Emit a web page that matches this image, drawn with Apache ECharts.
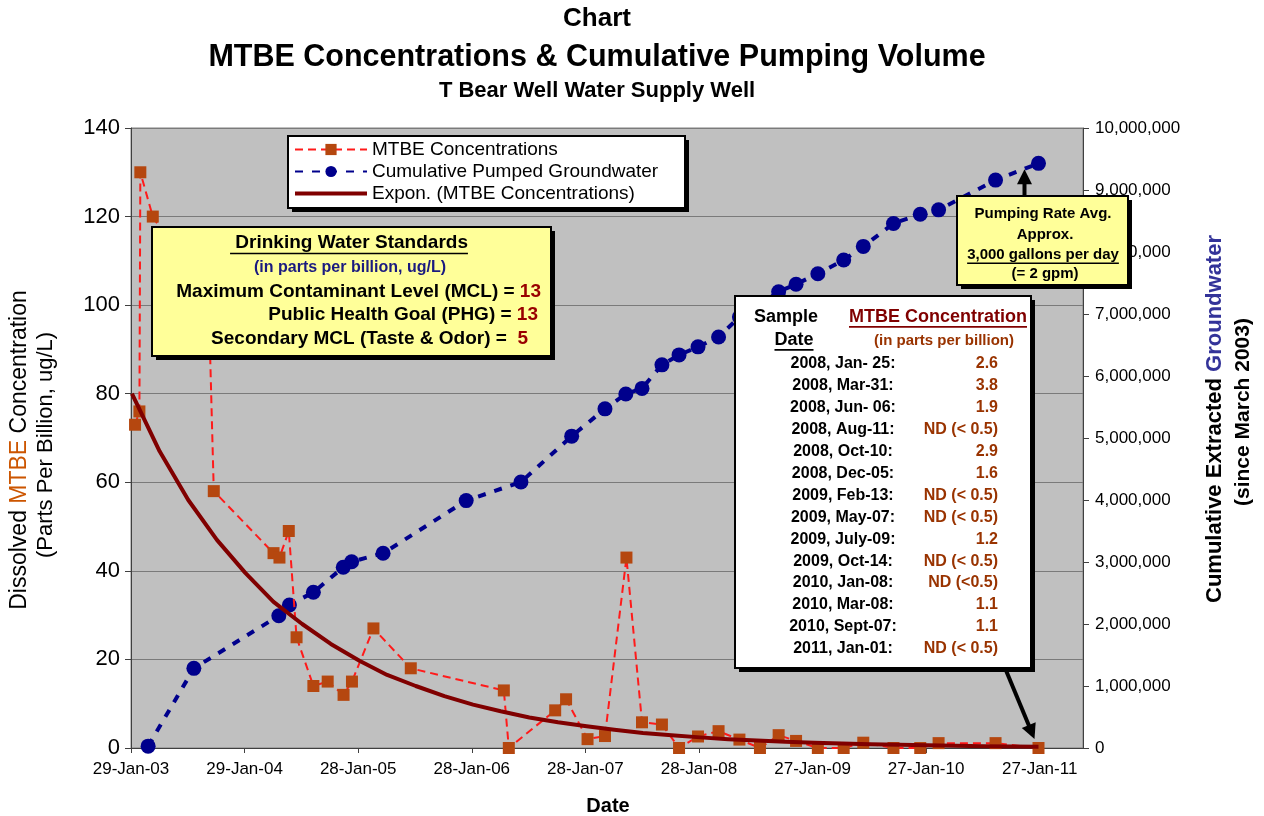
<!DOCTYPE html>
<html><head><meta charset="utf-8">
<script src="https://cdn.jsdelivr.net/npm/echarts@6/dist/echarts.min.js"></script>
<style>html,body{margin:0;padding:0;background:#fff}#c{width:1264px;height:816px}</style>
</head><body><div id="c"></div>
<script>
// ---------- data ----------
const baseDate = '2003-01-29';   // first x-axis tick
const axisEndDay = 3059;         // right edge of the date axis, days after baseDate
const tickStepDays = 365;

const mtbeDates = ['2003-02-11','2003-02-25','2003-02-28','2003-04-09','2003-10-06','2003-10-22',
  '2004-05-01','2004-05-20','2004-06-19','2004-07-14','2004-09-06','2004-10-22','2004-12-12',
  '2005-01-08','2005-03-18','2005-07-16','2006-05-11','2006-05-27','2006-10-23','2006-11-27',
  '2007-02-04','2007-04-01','2007-06-09','2007-07-29','2007-10-01','2007-11-25',
  '2008-01-25','2008-03-31','2008-06-06','2008-08-11','2008-10-10','2008-12-05',
  '2009-02-13','2009-05-07','2009-07-09','2009-10-14','2010-01-08','2010-03-08','2010-09-07','2011-01-23'];
const mtbeValues = [73,76,130,120,100,58,
  44,43,49,25,14,15,12,
  15,27,18,13,0,8.5,11,
  2,2.7,43,5.8,5.3,0,
  2.6,3.8,1.9,0,2.9,1.6,
  0,0,1.2,0,0,1.1,1.1,0];

const pumpDates = ['2003-03-25','2003-08-19','2004-05-18','2004-06-21','2004-09-06','2004-12-11',
  '2005-01-07','2005-04-18','2006-01-10','2006-07-05','2006-12-15','2007-04-01','2007-06-07',
  '2007-07-29','2007-10-01','2007-11-25','2008-01-25','2008-03-31','2008-06-06','2008-08-11',
  '2008-10-10','2008-12-05','2009-02-13','2009-05-07','2009-07-09','2009-10-14','2010-01-08',
  '2010-03-08','2010-09-07','2011-01-23'];
const pumpValues = [30000,1285000,2134000,2306000,2511000,2915000,
  3005000,3140000,3990000,4290000,5030000,5470000,5710000,
  5800000,6180000,6340000,6470000,6630000,6950000,7150000,
  7360000,7480000,7650000,7870000,8090000,8460000,8610000,
  8680000,9160000,9430000];

// Excel exponential trendline
const trendDates = ['2003-02-01','2003-05-01','2003-08-01','2003-11-01','2004-02-01','2004-05-01',
  '2004-08-01','2004-11-01','2005-02-01','2005-05-01','2005-08-01','2005-11-01','2006-02-01',
  '2006-05-01','2006-08-01','2006-11-01','2007-02-01','2007-05-01','2007-08-01','2007-11-01',
  '2008-02-01','2008-05-01','2008-08-01','2008-11-01','2009-02-01','2009-05-01','2009-08-01',
  '2009-11-01','2010-02-01','2010-05-01','2010-08-01','2010-11-01','2011-01-23'];
const trendValues = [80,67,56,47,39.5,33,28,23.5,19.7,16.5,14,11.7,9.8,
  8.3,6.9,5.8,4.9,4.1,3.4,2.9,2.4,2.0,1.7,1.4,1.2,1.0,0.85,
  0.71,0.6,0.5,0.42,0.35,0.31];

const seriesNames = ['MTBE Concentrations','Cumulative Pumped Groundwater','Expon. (MTBE Concentrations)'];

const standardsRows = [
  ['Maximum Contaminant Level (MCL) = ','13'],
  ['Public Health Goal (PHG) = ','13'],
  ['Secondary MCL (Taste & Odor) =  ','5']
];
const tableDates = ['2008, Jan- 25:','2008, Mar-31:','2008, Jun- 06:','2008, Aug-11:','2008, Oct-10:',
  '2008, Dec-05:','2009, Feb-13:','2009, May-07:','2009, July-09:','2009, Oct-14:','2010, Jan-08:',
  '2010, Mar-08:','2010, Sept-07:','2011, Jan-01:'];
const tableValues = ['2.6','3.8','1.9','ND (< 0.5)','2.9','1.6','ND (< 0.5)','ND (< 0.5)','1.2',
  'ND (< 0.5)','ND (<0.5)','1.1','1.1','ND (< 0.5)'];

// ---------- helpers ----------
const DAY = 86400000;
const MON = ['Jan','Feb','Mar','Apr','May','Jun','Jul','Aug','Sep','Oct','Nov','Dec'];
function utc(s){const p=s.split('-').map(Number);return Date.UTC(p[0],p[1]-1,p[2]);}
const base = utc(baseDate);
function toDay(s){return Math.round((utc(s)-base)/DAY);}
function fmtDay(v){const d=new Date(base+v*DAY);
  return String(d.getUTCDate()).padStart(2,'0')+'-'+MON[d.getUTCMonth()]+'-'+String(d.getUTCFullYear()%100).padStart(2,'0');}
const FF = '"Liberation Sans", Arial, Helvetica, sans-serif';
const mctx = document.createElement('canvas').getContext('2d');
function tw(text, size, weight){mctx.font=(weight||'normal')+' '+size+'px '+FF;return mctx.measureText(text).width;}

const mtbeData = mtbeDates.map((d,i)=>[toDay(d), mtbeValues[i]]);
const pumpData = pumpDates.map((d,i)=>[toDay(d), pumpValues[i]]);
const trendData = trendDates.map((d,i)=>[toDay(d), trendValues[i]]);

const chart = echarts.init(document.getElementById('c'));

const titleCx = 597;
function titleItem(text, size, cy){
  return {text, left: titleCx - tw(text,size,'bold')/2, top: cy - size/2 - 1, padding:0,
    textStyle:{fontFamily:FF, fontWeight:'bold', fontSize:size, color:'#000'}};
}

const option = {
  animation:false,
  backgroundColor:'#fff',
  title:[
    titleItem('Chart',26,20),
    titleItem('MTBE Concentrations & Cumulative Pumping Volume',30.5,58),
    titleItem('T Bear Well Water Supply Well',22,92)
  ],
  grid:{left:131, right:181, top:128, bottom:68, show:true, backgroundColor:'#C0C0C0', borderColor:'#808080', borderWidth:1},
  legend:{
    data:[{name:seriesNames[0]},{name:seriesNames[1]},
      {name:seriesNames[2], icon:'path://M0,0L72,0L72,4L0,4Z', itemStyle:{color:'#800000'}}],
    orient:'vertical', left:290, top:138, z:60,
    itemWidth:72, itemHeight:14, itemGap:3, padding:[2,4,2,4],
    textStyle:{fontFamily:FF, fontSize:19, color:'#000'}
  },
  xAxis:{
    type:'value', min:0, max:axisEndDay, interval:tickStepDays,
    axisLine:{lineStyle:{color:'#404040', width:1}},
    axisTick:{show:true, length:5, lineStyle:{color:'#404040'}},
    splitLine:{show:false},
    axisLabel:{margin:13, fontFamily:FF, fontSize:17, color:'#000', showMaxLabel:false,
      formatter:v=> (v % tickStepDays === 0 ? fmtDay(v) : '')}
  },
  yAxis:[
    {type:'value', min:0, max:140, interval:20, position:'left',
      axisLine:{show:true, lineStyle:{color:'#404040'}},
      axisTick:{show:true, length:6, lineStyle:{color:'#404040'}},
      splitLine:{show:true, lineStyle:{color:'#7A7A7A', width:1}},
      axisLabel:{margin:11, fontFamily:FF, fontSize:22, color:'#000'}},
    {type:'value', min:0, max:10000000, interval:1000000, position:'right',
      axisLine:{show:true, lineStyle:{color:'#404040'}},
      axisTick:{show:true, length:6, lineStyle:{color:'#404040'}},
      splitLine:{show:false},
      axisLabel:{margin:12, fontFamily:FF, fontSize:17, color:'#000', formatter:v=>v.toLocaleString('en-US')}}
  ],
  series:[
    {name:seriesNames[0], type:'line', yAxisIndex:0, data:mtbeData, z:3,
      symbol:'rect', symbolSize:12, itemStyle:{color:'#B5470F'},
      lineStyle:{color:'#FF1A1A', width:2, type:[8,5]}},
    {name:seriesNames[1], type:'line', yAxisIndex:1, data:pumpData, z:2,
      symbol:'circle', symbolSize:15, itemStyle:{color:'#00008C'},
      lineStyle:{color:'#00008C', width:4, type:[8,9]}},
    {name:seriesNames[2], type:'line', yAxisIndex:0, data:trendData, z:4,
      symbol:'none', smooth:false,
      itemStyle:{color:'#800000'}, lineStyle:{color:'#800000', width:4, join:'round'}}
  ]
};
chart.setOption(option);

// ---------- annotations ----------
const G = [];
function box(x,y,w,h,fill,z){
  G.push({type:'rect', silent:true, z:z, shape:{x:x+4,y:y+4,width:w,height:h}, style:{fill:'#000'}});
  G.push({type:'rect', silent:true, z:z+1, shape:{x:x,y:y,width:w,height:h}, style:{fill:fill, stroke:'#000', lineWidth:2}});
}
function text(t,x,y,size,weight,color,align,z,underline){
  G.push({type:'text', silent:true, z:z, x:x, y:y,
    style:{text:t, fontFamily:FF, fontSize:size, fontWeight:weight, fill:color, align:align||'center', verticalAlign:'middle'}});
  if(underline){
    const w = tw(t,size,weight);
    const x0 = align==='left'?x:(align==='right'?x-w:x-w/2);
    G.push({type:'line', silent:true, z:z, shape:{x1:x0,y1:y+size*0.55,x2:x0+w,y2:y+size*0.55}, style:{stroke:color, lineWidth:1.6}});
  }
}
function rich(parts,x,y,align,z){
  const rs = {}; let s='';
  parts.forEach((p,i)=>{rs['p'+i]={fontFamily:FF,fontSize:p[1],fontWeight:p[2],fill:p[3]}; s+='{p'+i+'|'+p[0]+'}';});
  G.push({type:'text', silent:true, z:z, x:x, y:y, style:{text:s, rich:rs, align:align, verticalAlign:'middle'}});
}
function arrow(sx,sy,tx,ty,z){
  const dx=tx-sx, dy=ty-sy, L=Math.hypot(dx,dy), ux=dx/L, uy=dy/L, nx=-uy, ny=ux;
  const hl=15, hw=7.5;
  G.push({type:'line', silent:true, z:z, shape:{x1:sx,y1:sy,x2:tx-ux*(hl-2),y2:ty-uy*(hl-2)}, style:{stroke:'#000', lineWidth:4}});
  G.push({type:'polygon', silent:true, z:z, shape:{points:[[tx,ty],[tx-ux*hl+nx*hw,ty-uy*hl+ny*hw],[tx-ux*hl-nx*hw,ty-uy*hl-ny*hw]]}, style:{fill:'#000'}});
}

// legend frame
box(288,136,397,72,'#fff',55);

// drinking water standards box
box(152,227,399,129,'#FFFF99',50);
text(' Drinking Water Standards',349,243,19,'bold','#000','center',52,true);
text('(in parts per billion, ug/L)',350,268,16,'bold','#1A1A80','center',52);
const stdRight = [541,538,528], stdY = [292,315,339];
standardsRows.forEach((r,i)=>rich([[r[0],19,'bold','#000'],[r[1],19,'bold','#990000']],stdRight[i],stdY[i],'right',52));

// sample table box
box(735,296,296,372,'#fff',50);
text('Sample',786,317,18,'bold','#000','center',52);
text('Date',794,340,18,'bold','#000','center',52,true);
text('MTBE Concentration',938,317,18,'bold','#800000','center',52,true);
text('(in parts per billion)',944,341,15,'bold','#993300','center',52);
tableDates.forEach((d,i)=>{
  const y = 364 + i*21.9;
  text(d,843,y,16,'bold','#000','center',52);
  text(tableValues[i],998,y,16,'bold','#993300','right',52);
});

// pumping rate box
box(957,196,171,89,'#FFFF99',50);
text('Pumping Rate Avg.',1043,214,15,'bold','#000','center',52);
text('Approx.',1045,235,15,'bold','#000','center',52);
text('3,000 gallons per day',1043,255,15,'bold','#000','center',52,true);
text('(= 2 gpm)',1045,274,15,'bold','#000','center',52);

// arrows pointing at last samples
const lastPump = chart.convertToPixel({xAxisIndex:0, yAxisIndex:1}, pumpData[pumpData.length-1]);
const lastMtbe = chart.convertToPixel({xAxisIndex:0, yAxisIndex:0}, mtbeData[mtbeData.length-1]);
arrow(lastPump[0]-14, 196, lastPump[0]-14, lastPump[1]+6, 53);
arrow(1005, 668, lastMtbe[0]-4, lastMtbe[1]-9, 53);

// axis titles
G.push({type:'text', silent:true, z:52, x:20, y:450, rotation:Math.PI/2,
  style:{text:'{a|Dissolved }{b|MTBE}{a| Concentration}', align:'center', verticalAlign:'middle',
    rich:{a:{fontFamily:FF,fontSize:23,fill:'#000'}, b:{fontFamily:FF,fontSize:23,fill:'#CC5500'}}}});
G.push({type:'text', silent:true, z:52, x:46, y:445, rotation:Math.PI/2,
  style:{text:'(Parts Per Billion, ug/L)', fontFamily:FF, fontSize:22, fill:'#000', align:'center', verticalAlign:'middle'}});
G.push({type:'text', silent:true, z:52, x:1215, y:419, rotation:Math.PI/2,
  style:{text:'{a|Cumulative Extracted }{b|Groundwater}', align:'center', verticalAlign:'middle',
    rich:{a:{fontFamily:FF,fontSize:22,fontWeight:'bold',fill:'#000'}, b:{fontFamily:FF,fontSize:22,fontWeight:'bold',fill:'#333399'}}}});
G.push({type:'text', silent:true, z:52, x:1243, y:412, rotation:Math.PI/2,
  style:{text:'(since March 2003)', fontFamily:FF, fontSize:21, fontWeight:'bold', fill:'#000', align:'center', verticalAlign:'middle'}});
text('Date',608,806,20,'bold','#000','center',52);

chart.setOption({graphic:G});
</script></body></html>
